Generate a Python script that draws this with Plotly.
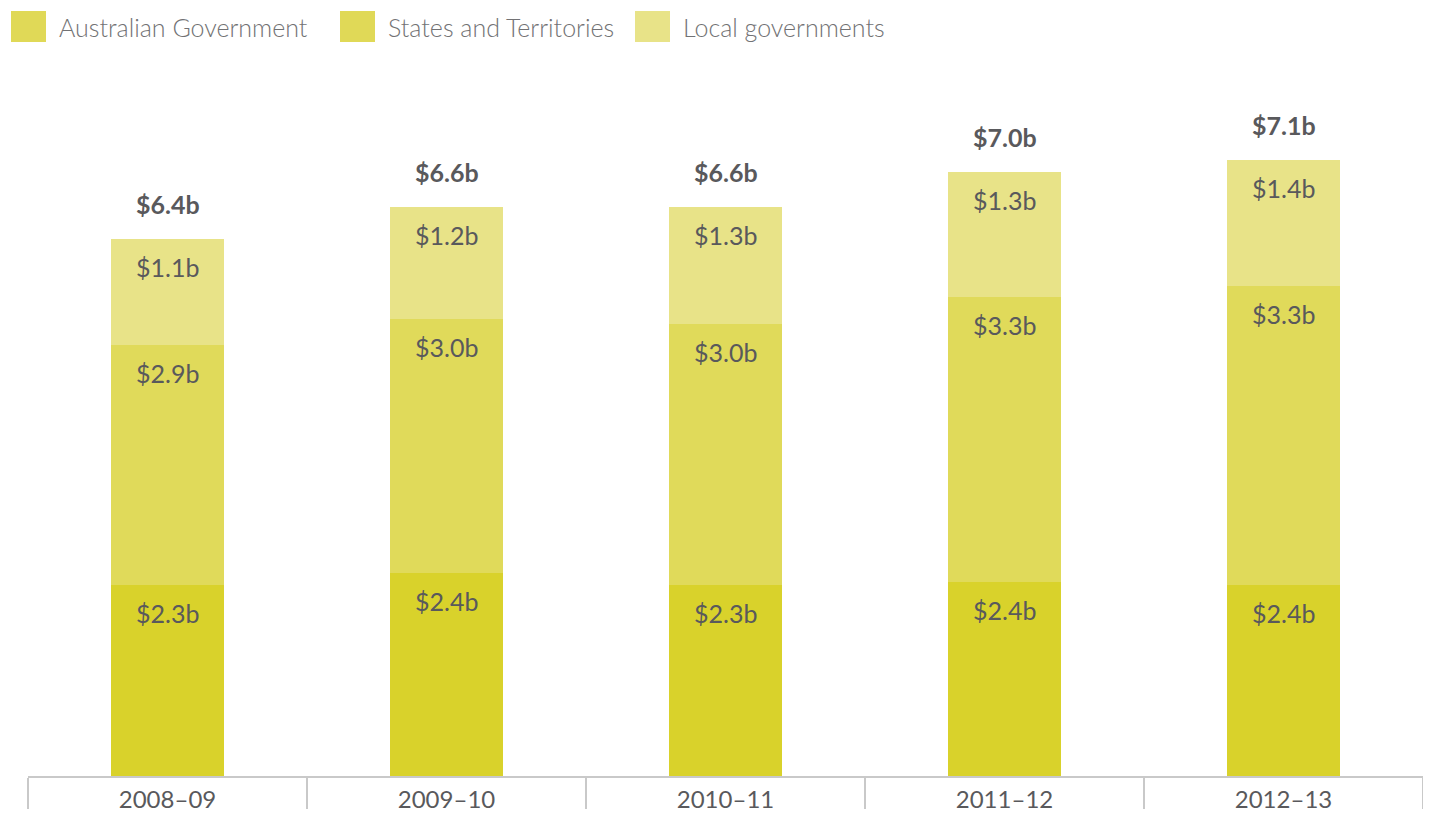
import plotly.graph_objects as go

# ---- data ----
categories = ["2008–09", "2009–10", "2010–11", "2011–12", "2012–13"]
series_names = ["Australian Government", "States and Territories", "Local governments"]
aus = [2.27, 2.42, 2.27, 2.31, 2.27]
states = [2.86, 3.02, 3.11, 3.40, 3.56]
local = [1.26, 1.33, 1.39, 1.48, 1.50]
aus_labels = ["$2.3b", "$2.4b", "$2.3b", "$2.4b", "$2.4b"]
states_labels = ["$2.9b", "$3.0b", "$3.0b", "$3.3b", "$3.3b"]
local_labels = ["$1.1b", "$1.2b", "$1.3b", "$1.3b", "$1.4b"]
total_labels = ["$6.4b", "$6.6b", "$6.6b", "$7.0b", "$7.1b"]

colors = ["#d9d22b", "#e0da5a", "#e8e388"]
swatch_colors = ["#e0d957", "#e0d957", "#e8e388"]
text_color = "#59595c"
legend_text_color = "#727274"
FONT = "Lato, 'Open Sans', sans-serif"

OFF = 8  # page body margin
W, H = 1415, 805
ML, MR, MT, MB = 20, 0, 92, 37

fig = go.Figure()
for name, vals, col in zip(series_names, [aus, states, local], colors):
    fig.add_trace(go.Bar(x=categories, y=vals, name=name, marker=dict(color=col, line=dict(width=0)),
                         showlegend=False, hoverinfo="x+y+name"))

annotations = []
# segment labels near top of each segment
cum = [0.0] * len(categories)
for vals, labels in zip([aus, states, local], [aus_labels, states_labels, local_labels]):
    for i, c in enumerate(categories):
        cum[i] += vals[i]
        annotations.append(dict(x=c, y=cum[i], xref="x", yref="y", text=labels[i], showarrow=False,
                                yanchor="top", yshift=-11,
                                font=dict(family=FONT, size=25, color=text_color)))
# totals
for i, c in enumerate(categories):
    annotations.append(dict(x=c, y=cum[i], xref="x", yref="y", text="<b>" + total_labels[i] + "</b>",
                            showarrow=False, yanchor="bottom", yshift=18,
                            font=dict(family=FONT, size=25, color=text_color)))

# custom legend (page pixel positions converted to paper coordinates)
pw = W - ML - MR
ph = H - MT - MB


def px(xp):
    return (xp - OFF - ML) / pw


def py(yp):
    return (H - MB - (yp - OFF)) / ph


shapes = []
legend_x = [11, 340, 635]
for name, col, lx in zip(series_names, swatch_colors, legend_x):
    shapes.append(dict(type="rect", xref="paper", yref="paper", x0=px(lx), x1=px(lx + 35),
                       y0=py(42), y1=py(11), fillcolor=col, line=dict(width=0)))
    annotations.append(dict(x=px(lx + 46), y=py(27), xref="paper", yref="paper", text=name,
                            showarrow=False, xanchor="left", yanchor="middle",
                            font=dict(family=FONT, size=25, color=legend_text_color, weight=300)))

fig.update_layout(
    width=W, height=H,
    margin=dict(l=ML, r=MR, t=MT, b=MB, autoexpand=False),
    barmode="stack",
    bargap=0.595,
    plot_bgcolor="white", paper_bgcolor="white",
    shapes=shapes,
    annotations=annotations,
    font=dict(family=FONT, color=text_color),
)
fig.update_xaxes(
    automargin=False,
    showline=True, linecolor="#c9c9c9", linewidth=2,
    ticks="outside", tickson="boundaries", ticklen=31, tickcolor="#c9c9c9", tickwidth=2,
    tickfont=dict(family=FONT, size=24, color=text_color),
    ticklabelstandoff=1,
    showgrid=False, zeroline=False,
)
fig.update_yaxes(range=[0, 8.05], visible=False, showgrid=False, zeroline=False, automargin=False)

fig.write_html("out.html")
